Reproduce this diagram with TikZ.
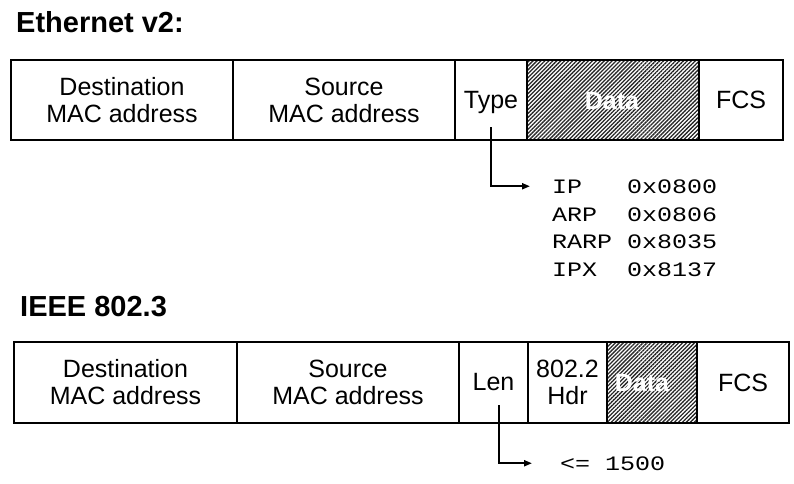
\documentclass[tikz,border=0pt]{standalone}
\usepackage{fontspec}
\setmainfont{Liberation Sans}
\newfontfamily\monofont[FakeStretch=1.22]{Liberation Mono}
\usetikzlibrary{arrows.meta,patterns.meta}
\begin{document}
\begin{tikzpicture}[x=1pt,y=-1pt,
  cell/.style={draw=black,line width=2pt,inner sep=0pt,outer sep=0pt,align=center,font=\fontsize{25}{27}\selectfont},
  hatch/.style={pattern={Lines[angle=45,distance=2.8pt,line width=1.3pt]},pattern color=black!85},
  datalbl/.style={text=white,inner sep=0pt,font=\fontsize{25}{27}\selectfont\bfseries},
  title/.style={anchor=base west,inner sep=0pt,font=\fontsize{29}{32}\selectfont\bfseries},
  mono/.style={anchor=base west,inner sep=0pt,font=\monofont\fontsize{20.5}{27}\selectfont},
  arr/.style={line width=2pt,-{Triangle[length=8pt,width=6pt]}}]
\useasboundingbox (0,0) rectangle (794,483);

% titles
\node[title] (t1) at (16,32) {Ethernet v2:};
\node[title] (t2) at (20,316) {IEEE 802.3};

% Ethernet v2 frame
\node[cell,minimum width=222pt,minimum height=80pt] (dst1) at (122,100) {Destination\\MAC address};
\node[cell,minimum width=222pt,minimum height=80pt] (src1) at (344,100) {Source\\MAC address};
\node[cell,minimum width=72pt,minimum height=80pt] (type1) at (491,100) {\vphantom{T}\smash{Type}};
\node[cell,hatch,minimum width=172pt,minimum height=80pt] (data1) at (613,100) {};
\node[cell,minimum width=84pt,minimum height=80pt] (fcs1) at (741,100) {FCS};
\node[datalbl] (dl1) at (612,101) {Data};

% IEEE 802.3 frame
\node[cell,minimum width=223pt,minimum height=81pt] (dst2) at (125.5,382.5) {Destination\\MAC address};
\node[cell,minimum width=222pt,minimum height=81pt] (src2) at (348,382.5) {Source\\MAC address};
\node[cell,minimum width=69pt,minimum height=81pt] (len2) at (493.5,382.5) {Len};
\node[cell,minimum width=79pt,minimum height=81pt] (hdr2) at (567.5,382.5) {802.2\\Hdr};
\node[cell,hatch,minimum width=90pt,minimum height=81pt] (data2) at (652,382.5) {};
\node[cell,minimum width=92pt,minimum height=81pt] (fcs2) at (743,382.5) {FCS};
\node[datalbl] (dl2) at (642,383) {Data};

% type values
\node[mono] (ip) at (552,193) {IP};
\node[mono] (ipv) at (627,193) {0x0800};
\node[mono] (arp) at (552,221) {ARP};
\node[mono] (arpv) at (627,221) {0x0806};
\node[mono] (rarp) at (552,248) {RARP};
\node[mono] (rarpv) at (627,248) {0x8035};
\node[mono] (ipx) at (552,276) {IPX};
\node[mono] (ipxv) at (627,276) {0x8137};

\node[mono] (le) at (560,470) {<= 1500};

% connectors
\coordinate (ta) at ([yshift=13pt]type1.south);
\draw[arr] (ta) |- ([xshift=-22pt]ip.west);
\coordinate (la) at ([xshift=5.5pt,yshift=18pt]len2.south);
\draw[arr] (la) |- ([xshift=-28pt]le.west);
\end{tikzpicture}
\end{document}
